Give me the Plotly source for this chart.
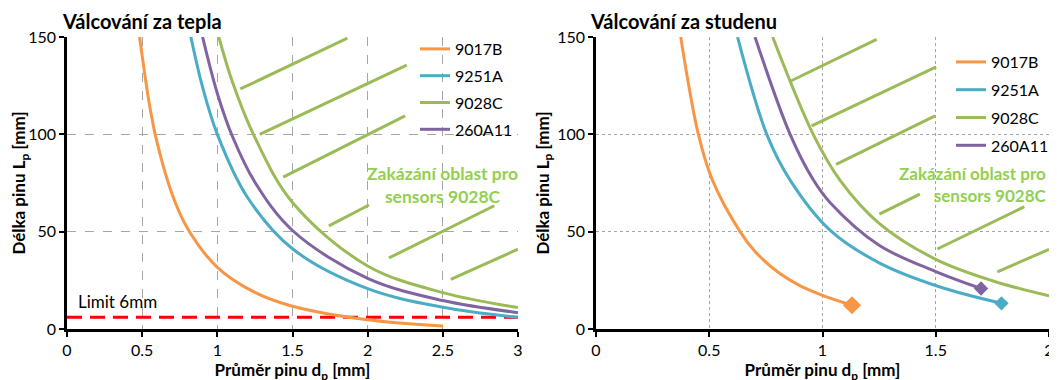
import plotly.graph_objs as go
from plotly.subplots import make_subplots

# --- data: Válcování za tepla (left) ---
hot_9017B_x = [0.483, 0.55, 0.6, 0.7, 0.8, 1.0, 1.25, 1.5, 2.0, 2.5]
hot_9017B_y = [150, 114.6, 95.6, 69.1, 51.9, 31.7, 18.8, 11.7, 4.7, 1.5]
hot_9251A_x = [0.824, 0.9, 1.0, 1.2, 1.5, 2.0, 2.5, 3.0]
hot_9251A_y = [150, 124.8, 100, 67.7, 41.2, 20.7, 11.2, 6.0]
hot_9028C_x = [1.01, 1.1, 1.24, 1.5, 2.0, 2.5, 3.0]
hot_9028C_y = [150, 127, 100, 65, 32.4, 18.7, 11]
hot_260A11_x = [0.902, 1.0, 1.1, 1.25, 1.5, 2.0, 2.5, 3.0]
hot_260A11_y = [150, 121, 99, 75.4, 50.6, 26, 14.6, 8.4]
limit_x = [0, 3]
limit_y = [6, 6]

# --- data: Válcování za studenu (right) ---
cold_9017B_x = [0.374, 0.452, 0.514, 0.636, 0.7, 0.8, 0.9, 1.0, 1.13]
cold_9017B_y = [150, 100, 76.5, 50, 40.1, 29.5, 22.3, 17.3, 12.2]
cold_9251A_x = [0.625, 0.754, 0.857, 1.033, 1.25, 1.516, 1.79]
cold_9251A_y = [150, 100, 76.5, 50.8, 34, 21.7, 13.2]
cold_9028C_x = [0.78, 0.959, 1.077, 1.25, 1.5, 1.75, 2.0]
cold_9028C_y = [150, 100, 76.5, 54.3, 35.8, 24.8, 17]
cold_260A11_x = [0.702, 0.857, 0.96, 1.033, 1.25, 1.5, 1.70]
cold_260A11_y = [150, 100, 76.5, 65, 43, 29.5, 20.8]

# hatch segments of the forbidden zone (x0, y0, x1, y1)
hot_hatch_x0 = [1.153, 1.282, 1.438, 1.742, 2.142, 2.553]
hot_hatch_y0 = [123.3, 100, 78, 53, 36.5, 25.5]
hot_hatch_x1 = [1.865, 2.26, 2.249, 2.009, 2.842, 3.0]
hot_hatch_y1 = [149.4, 135.5, 109.5, 63.7, 63.3, 41.0]
cold_hatch_x0 = [0.853, 0.952, 1.06, 1.251, 1.507, 1.772]
cold_hatch_y0 = [127, 104.3, 84.6, 59, 41.1, 29.4]
cold_hatch_x1 = [1.239, 1.502, 1.497, 1.43, 1.891, 2.0]
cold_hatch_y1 = [148.8, 134.7, 109.5, 69.3, 62.8, 40.9]

names = ['9017B', '9251A', '9028C', '260A11']
colors = ['#F79646', '#4BACC6', '#9BBB59', '#8064A2']
FONT = 'Lato'
# page body has an 8px margin; figure is a bit larger than the window so
# the legend does not push the margins and the x title is not squeezed
W, H = 1069, 380

fig = make_subplots(rows=1, cols=2)

hot = [(hot_9017B_x, hot_9017B_y), (hot_9251A_x, hot_9251A_y),
       (hot_9028C_x, hot_9028C_y), (hot_260A11_x, hot_260A11_y)]
cold = [(cold_9017B_x, cold_9017B_y), (cold_9251A_x, cold_9251A_y),
        (cold_9028C_x, cold_9028C_y), (cold_260A11_x, cold_260A11_y)]

# hatch lines first (under the curves)
for x0, y0, x1, y1 in zip(hot_hatch_x0, hot_hatch_y0, hot_hatch_x1, hot_hatch_y1):
    fig.add_trace(go.Scatter(x=[x0, x1], y=[y0, y1], mode='lines', showlegend=False,
                             line=dict(color='#9BBB59', width=3), hoverinfo='skip'), 1, 1)
for x0, y0, x1, y1 in zip(cold_hatch_x0, cold_hatch_y0, cold_hatch_x1, cold_hatch_y1):
    fig.add_trace(go.Scatter(x=[x0, x1], y=[y0, y1], mode='lines', showlegend=False,
                             line=dict(color='#9BBB59', width=3), hoverinfo='skip'), 1, 2)

fig.add_trace(go.Scatter(x=limit_x, y=limit_y, mode='lines', showlegend=False,
                         line=dict(color='#FF0000', width=3, dash='15px,8px')), 1, 1)

for i, (xs, ys) in enumerate(hot):
    fig.add_trace(go.Scatter(x=xs, y=ys, mode='lines', name=names[i], legend='legend',
                             legendgroup='h' + str(i), line_shape='spline',
                             line=dict(color=colors[i], width=3)), 1, 1)

for i, (xs, ys) in enumerate(cold):
    fig.add_trace(go.Scatter(x=xs, y=ys, mode='lines', name=names[i], legend='legend2',
                             legendgroup='c' + str(i), line_shape='spline',
                             line=dict(color=colors[i], width=3)), 1, 2)
    if names[i] != '9028C':
        fig.add_trace(go.Scatter(x=[xs[-1]], y=[ys[-1]], mode='markers', showlegend=False,
                                 marker=dict(symbol='diamond', color=colors[i],
                                             size=14 if i == 0 else 11)), 1, 2)

axis_common = dict(showline=True, linecolor='black', linewidth=2.5,
                   ticks='outside', ticklen=5, tickwidth=2, tickcolor='black',
                   showgrid=True, gridcolor='#A6A6A6', gridwidth=1,
                   zeroline=False, automargin=False,
                   tickfont=dict(family=FONT, size=16, color='black'))

fig.update_xaxes(axis_common)
fig.update_yaxes(axis_common)
fig.update_xaxes(range=[0, 3], dtick=0.5, domain=[59 / W, 510 / W], griddash='dash', col=1)
fig.update_xaxes(range=[0, 2], dtick=0.5, domain=[588 / W, 1041 / W], griddash='dot', col=2)
fig.update_yaxes(range=[0, 150], dtick=50, domain=[(H - 321) / H, (H - 29) / H])
fig.update_yaxes(griddash='dash', col=1)
fig.update_yaxes(griddash='dot', col=2)

title_font = dict(family=FONT, size=17, color='black', weight='bold')
fig.update_xaxes(title=dict(text='Průměr pinu d<sub>p</sub> [mm]', font=title_font, standoff=3))
fig.update_yaxes(title=dict(text='Délka pinu L<sub>p</sub> [mm]', font=title_font, standoff=4))

legend_common = dict(font=dict(family=FONT, size=16, color='black'), bgcolor='rgba(0,0,0,0)',
                     itemwidth=30, xanchor='left', yanchor='top')
fig.update_layout(
    legend=dict(legend_common, tracegroupgap=3, x=407 / W, y=(H - 24) / H),
    legend2=dict(legend_common, tracegroupgap=4, x=943 / W, y=(H - 37) / H),
)

fig.add_annotation(text='Válcování za tepla', x=52 / W, y=(H - 13) / H, xref='paper', yref='paper',
                   xanchor='left', yanchor='middle', showarrow=False,
                   font=dict(family=FONT, size=20, color='black', weight='bold'))
fig.add_annotation(text='Válcování za studenu', x=580 / W, y=(H - 13) / H, xref='paper', yref='paper',
                   xanchor='left', yanchor='middle', showarrow=False,
                   font=dict(family=FONT, size=20, color='black', weight='bold'))
fig.add_annotation(text='Limit 6mm', x=0.06, y=14, xref='x', yref='y', xanchor='left',
                   showarrow=False, font=dict(family=FONT, size=17, color='black'))
fig.add_annotation(text='Zakázání oblast pro<br>sensors 9028C', x=2.5, y=74, xref='x', yref='y',
                   xanchor='center', align='center', showarrow=False,
                   font=dict(family=FONT, size=17.5, color='#92D050', weight='bold'))
fig.add_annotation(text='Zakázání oblast pro<br>sensors 9028C', x=2.0, y=74, xref='x2', yref='y2',
                   xanchor='right', align='right', showarrow=False,
                   font=dict(family=FONT, size=17, color='#92D050', weight='bold'))

fig.update_layout(width=W, height=H, margin=dict(l=0, r=0, t=0, b=0),
                  plot_bgcolor='white', paper_bgcolor='white', showlegend=True)
fig.write_html("out.html")
